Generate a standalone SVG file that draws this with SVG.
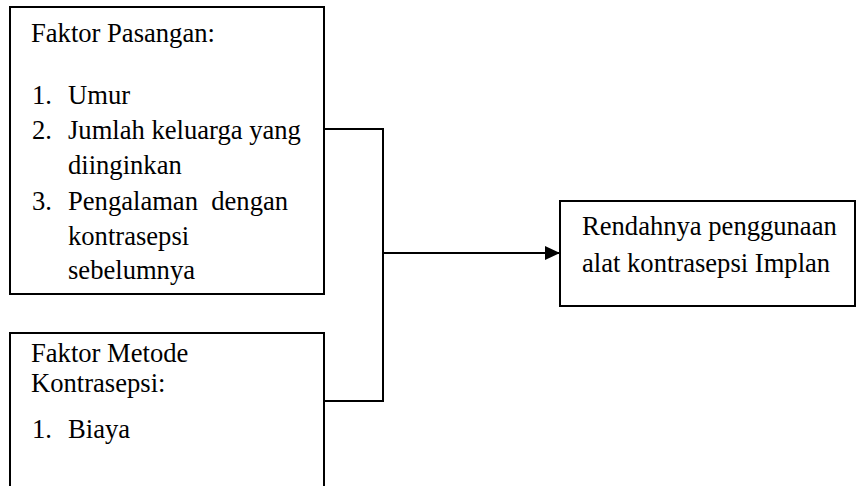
<svg xmlns="http://www.w3.org/2000/svg" width="856" height="486" viewBox="0 0 856 486">
<defs>
<style>
.box{fill:#fff;stroke:#000;stroke-width:2}
.c{fill:none;stroke:#000;stroke-width:2}
</style>
<marker id="arr" markerUnits="userSpaceOnUse" markerWidth="16" markerHeight="16" refX="15" refY="7" orient="auto" viewBox="0 0 16 14">
<path d="M0,0 L15,7 L0,14 Z" fill="#000"/>
</marker>
</defs>
<rect width="856" height="486" fill="#fff"/>
<g id="faktor-pasangan" font-family="Liberation Serif, serif" font-size="26.6" fill="#000">
<rect class="box" x="10" y="7" width="314" height="287"/>
<text x="31" y="42">Faktor Pasangan:</text>
<text x="32" y="104">1.</text><text x="68" y="104">Umur</text>
<text x="32" y="139">2.</text><text x="68" y="139">Jumlah keluarga yang</text>
<text x="68" y="174">diinginkan</text>
<text x="32" y="210">3.</text><text x="68" y="210" xml:space="preserve">Pengalaman  dengan</text>
<text x="68" y="245">kontrasepsi</text>
<text x="68" y="279">sebelumnya</text>
</g>
<g id="faktor-metode" font-family="Liberation Serif, serif" font-size="26.6" fill="#000">
<rect class="box" x="10" y="333" width="314" height="160"/>
<text x="31" y="362">Faktor Metode</text>
<text x="31" y="392">Kontrasepsi:</text>
<text x="32" y="438">1.</text><text x="68" y="438">Biaya</text>
</g>
<g id="rendahnya" font-family="Liberation Serif, serif" font-size="26.6" fill="#000">
<rect class="box" x="560" y="201" width="295" height="105"/>
<text x="582" y="235">Rendahnya penggunaan</text>
<text x="582" y="272">alat kontrasepsi Implan</text>
</g>
<g id="connectors">
<polyline class="c" points="324,129 383,129 383,401 324,401"/>
<line class="c" x1="383" y1="253" x2="560" y2="253" marker-end="url(#arr)"/>
</g>
</svg>
